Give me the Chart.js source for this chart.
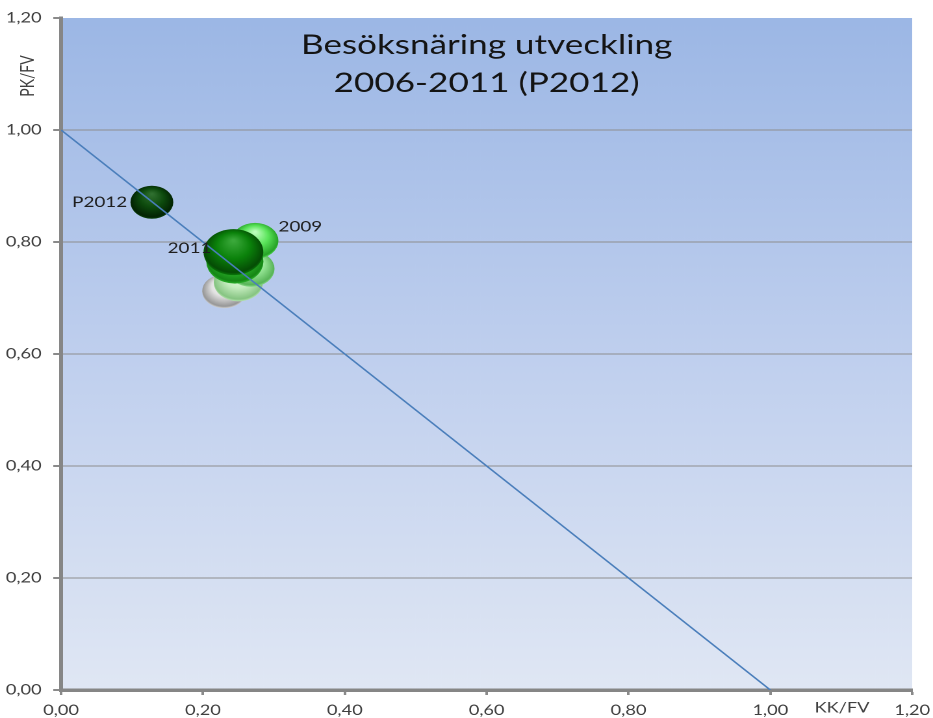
<!DOCTYPE html>
<html><head><meta charset="utf-8">
<script src="https://cdn.jsdelivr.net/npm/chart.js@4/dist/chart.umd.min.js"></script>
<style>
html,body{margin:0;padding:0;background:#fff;overflow:hidden}
#wrap{position:absolute;left:0;top:0;width:718px;height:718px;transform:scaleX(1.29944);transform-origin:0 0}
</style></head><body>
<div id="wrap"><canvas id="c"></canvas></div>
<script>
// ---- data ----
const years = ['2006','2007','2008','2009','2010','2011','P2012'];
const kkfv = [0.230, 0.250, 0.268, 0.2735, 0.245, 0.243, 0.128];
const pkfv = [0.712, 0.728, 0.752, 0.802, 0.765, 0.782, 0.871];
const bubbleSize = [17, 19, 18, 18, 22, 23, 16.5];
const shownLabels = ['', '', '', '2009', '', '2011', 'P2012'];
const refLineX = [0, 1];
const refLineY = [1, 0];
const axisMin = 0, axisMax = 1.2, axisStep = 0.2;
const titleLines = ['Besöksnäring utveckling', '2006-2011 (P2012)'];
const xAxisTitle = 'KK/FV';
const yAxisTitle = 'PK/FV';

// ---- styles ----
const FONT = "Lato, 'Open Sans', sans-serif";
const bubbleColors = [
  {hi:'#ffffff', base:'#e2e2e2', dark:'#979797'},
  {hi:'#f2fff0', base:'#c4ecbe', dark:'#86c482'},
  {hi:'#dcffdc', base:'#96e696', dark:'#58b458'},
  {hi:'#bbffbb', base:'#5ae45a', dark:'#27a327'},
  {hi:'#8ef08e', base:'#33be33', dark:'#158615'},
  {hi:'#3aa83a', base:'#0b820b', dark:'#054c05'},
  {hi:'#2f6f2f', base:'#0d4a0d', dark:'#032403'}
];
const labelStyle = {
  3: {dx: 18, dy: -14, align: 'left'},
  5: {dx: -17, dy: -4, align: 'right'},
  6: {dx: -19, dy: 0, align: 'right'}
};

function fmt(v){ return v.toFixed(2).replace('.', ','); }

function makeFill(ctx, px, py, r, c){
  const g = ctx.createRadialGradient(px, py - r*0.5, r*0.05, px, py - r*0.05, r*1.08);
  g.addColorStop(0, c.hi);
  g.addColorStop(0.5, c.base);
  g.addColorStop(0.9, c.dark);
  g.addColorStop(1, c.base);
  return g;
}

const bgPlugin = {
  id: 'bg',
  beforeDraw(chart){
    const {ctx, chartArea: a} = chart;
    const g = ctx.createLinearGradient(0, a.top, 0, a.bottom);
    g.addColorStop(0, '#9cb7e5');
    g.addColorStop(0.5, '#bfcfee');
    g.addColorStop(1, '#e0e7f4');
    ctx.save();
    ctx.fillStyle = g;
    ctx.fillRect(a.left, a.top, a.right - a.left, a.bottom - a.top);
    ctx.restore();
  }
};

const textPlugin = {
  id: 'texts',
  beforeDatasetsDraw(chart){
    const {ctx, chartArea: a} = chart;
    const bm = chart.getDatasetMeta(1);
    bm.data.forEach((el, i) => {
      if (isFinite(el.x) && isFinite(el.y) && el.options) {
        el.options.backgroundColor = makeFill(ctx, el.x, el.y, el.options.radius || bubbleSize[i], bubbleColors[i]);
      }
    });
    ctx.save();
    ctx.fillStyle = '#141414';
    ctx.font = "27px " + FONT;
    ctx.textAlign = 'center';
    ctx.textBaseline = 'alphabetic';
    const cx = (a.left + a.right) / 2;
    ctx.fillText(titleLines[0], cx, 54);
    ctx.fillText(titleLines[1], cx, 92);
    ctx.fillStyle = '#404040';
    ctx.font = "14px " + FONT;
    ctx.textBaseline = 'middle';
    ctx.fillText(xAxisTitle, 648, 708);
    ctx.translate(21.5, 76);
    ctx.rotate(-Math.PI/2);
    ctx.fillText(yAxisTitle, 0, 0);
    ctx.restore();
  },
  afterDatasetsDraw(chart){
    const {ctx} = chart;
    const meta = chart.getDatasetMeta(1);
    ctx.save();
    ctx.fillStyle = '#1e1e1e';
    ctx.font = "14.5px " + FONT;
    ctx.textBaseline = 'middle';
    meta.data.forEach((el, i) => {
      const t = shownLabels[i];
      if (!t) return;
      const s = labelStyle[i];
      ctx.textAlign = s.align;
      ctx.fillText(t, el.x + s.dx, el.y + s.dy);
    });
    ctx.restore();
  }
};

new Chart(document.getElementById('c'), {
  type: 'bubble',
  data: {
    datasets: [
      {
        type: 'line',
        label: 'ref',
        data: refLineX.map((x, i) => ({x, y: refLineY[i]})),
        borderColor: '#4a7ebb',
        borderWidth: 1.4,
        pointRadius: 0,
        fill: false,
        order: 0
      },
      {
        type: 'bubble',
        label: 'Besöksnäring',
        data: years.map((y, i) => ({x: kkfv[i], y: pkfv[i], r: bubbleSize[i]})),
        backgroundColor: years.map((y, i) => bubbleColors[i].base),
        borderWidth: 0,
        hoverRadius: 0,
        order: 1
      }
    ]
  },
  options: {
    responsive: true,
    maintainAspectRatio: false,
    animation: false,
    devicePixelRatio: 2,
    events: [],
    layout: {autoPadding: false, padding: {top: 18, right: 16, left: 0, bottom: 0}},
    plugins: {legend: {display: false}, tooltip: {enabled: false}, title: {display: false}},
    scales: {
      x: {
        type: 'linear', min: axisMin, max: axisMax,
        afterFit(s){ s.height = 28; s.paddingLeft = 0; s.paddingRight = 0; },
        ticks: {stepSize: axisStep, callback: v => fmt(v), color: '#404040', font: {family: FONT, size: 14}, padding: 7, maxRotation: 0},
        grid: {drawOnChartArea: false, drawTicks: true, tickLength: 5, tickColor: '#8a8a8a', tickWidth: 2},
        border: {display: true, color: '#868686', width: 3.5}
      },
      y: {
        type: 'linear', min: axisMin, max: axisMax,
        afterFit(s){ s.width = 47; s.paddingTop = 0; s.paddingBottom = 0; },
        ticks: {stepSize: axisStep, callback: v => fmt(v), color: '#404040', font: {family: FONT, size: 14}, padding: 9},
        grid: {
          color: c => (c.tick && c.tick.value > 1.1) ? 'rgba(0,0,0,0)' : '#8e8e8e',
          lineWidth: 1, drawTicks: true, tickLength: 6, tickColor: '#8a8a8a', tickWidth: 2
        },
        border: {display: true, color: '#868686', width: 3}
      }
    }
  },
  plugins: [bgPlugin, textPlugin]
});
</script>
</body></html>
